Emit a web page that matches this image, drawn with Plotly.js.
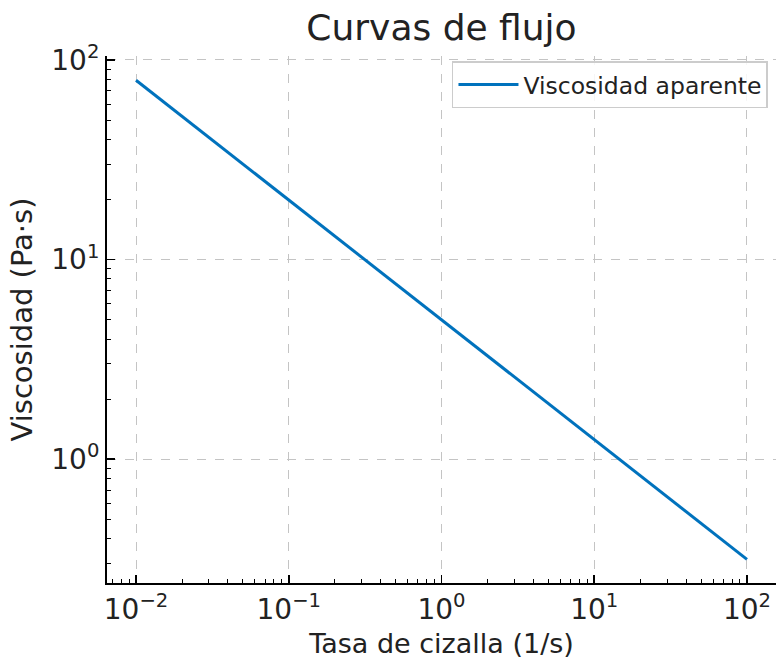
<!DOCTYPE html>
<html>
<head>
<meta charset="utf-8">
<script src="https://cdn.plot.ly/plotly-3.0.1.min.js"></script>
<style>html,body{margin:0;padding:0;background:#fff;}#chart{width:776px;height:661px;}</style>
</head>
<body>
<div id="chart"></div>
<script>
// Data (log-log power-law curve)
const shearRate = [0.01, 0.1, 1, 10, 100];
const viscosity = [79.2, 19.9, 5.0, 1.26, 0.315];
const seriesName = 'Viscosidad aparente';
const xTickVals = [0.01, 0.1, 1, 10, 100];
const xTickText = ['10<sup>−2</sup>', '10<sup>−1</sup>', '10<sup>0</sup>', '10<sup>1</sup>', '10<sup>2</sup>'];
const yTickVals = [1, 10, 100];
const yTickText = ['10<sup>0</sup>', '10<sup>1</sup>', '10<sup>2</sup>'];

const font = 'DejaVu Sans, sans-serif';
const axisCommon = {
  type: 'log',
  showline: true, linecolor: '#000', linewidth: 2, mirror: false,
  ticks: 'inside', ticklen: 8, tickwidth: 1.5, tickcolor: '#000',
  showgrid: true, gridcolor: '#c4c4c4', griddash: 'dash', gridwidth: 1,
  zeroline: false, tickmode: 'array',
  tickfont: {family: font, size: 28, color: '#222'},
  minor: {ticks: 'inside', ticklen: 4, tickwidth: 1, tickcolor: '#000', showgrid: false, dtick: 'D1'}
};

const data = [{
  x: shearRate, y: viscosity, type: 'scatter', mode: 'lines', name: seriesName,
  line: {color: '#0072BD', width: 3}
}];

const layout = {
  width: 776, height: 661,
  margin: {l: 107, r: 0, t: 56, b: 78},
  paper_bgcolor: '#fff', plot_bgcolor: '#fff',
  font: {family: font, color: '#222'},
  title: {text: 'Curvas de flujo', font: {family: font, size: 36, color: '#222'},
          x: 0.5, xref: 'paper', y: 0.958, yref: 'container', yanchor: 'middle'},
  xaxis: Object.assign({}, axisCommon, {
    range: [-2.19, 2.19], tickvals: xTickVals, ticktext: xTickText,
    title: {text: 'Tasa de cizalla (1/s)', font: {family: font, size: 27, color: '#222'}, standoff: 10}
  }),
  yaxis: Object.assign({}, axisCommon, {
    range: [-0.62, 2.02], tickvals: yTickVals, ticktext: yTickText,
    title: {text: 'Viscosidad (Pa·s)', font: {family: font, size: 29, color: '#222'}, standoff: 10}
  }),
  showlegend: true,
  legend: {x: 0.988, xanchor: 'right', y: 0.99, yanchor: 'top',
           bgcolor: 'rgba(255,255,255,0.85)', bordercolor: '#cccccc', borderwidth: 1.5,
           itemwidth: 60,
           font: {family: font, size: 23.5, color: '#222'}}
};

Plotly.newPlot('chart', data, layout, {displayModeBar: false, staticPlot: true});
</script>
</body>
</html>
